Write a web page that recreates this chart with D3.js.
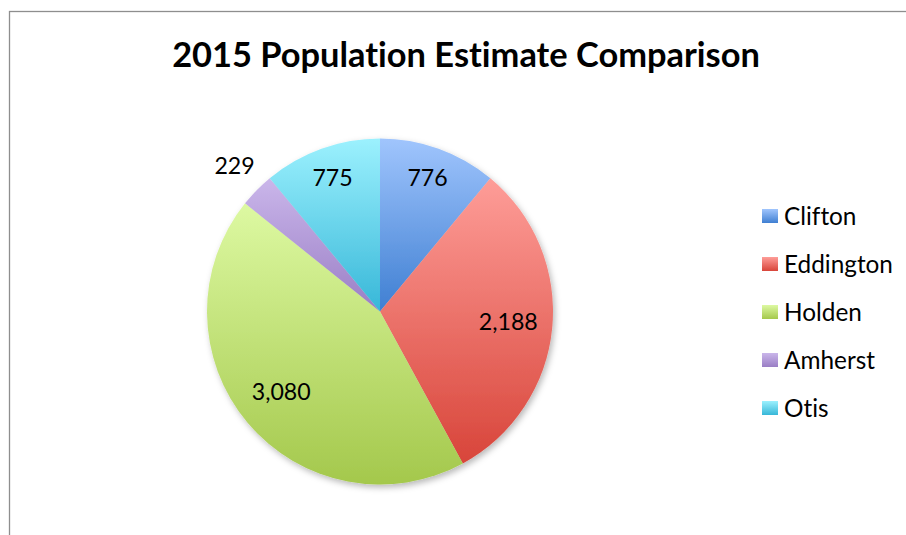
<!DOCTYPE html>
<html>
<head>
<meta charset="utf-8">
<script src="https://cdn.jsdelivr.net/npm/d3@7"></script>
<style>
  html, body { margin: 0; padding: 0; background: #fff; }
  svg { display: block; }
  text { font-family: Lato, "Open Sans", "Liberation Sans", sans-serif; fill: #000;
         font-variant-ligatures: none; font-feature-settings: "liga" 0; }
</style>
</head>
<body>
<script>
// 2015 population estimates by town
const towns = ["Clifton", "Eddington", "Holden", "Amherst", "Otis"];
const population = [776, 2188, 3080, 229, 775];
// gradient stops per town: light at top, deeper at bottom
const topColors = ["#a0c5fd", "#fe9d98", "#ddf9a2", "#cab6ea", "#9cf1fe"];
const bottomColors = ["#3f7fd2", "#d8453a", "#a4c84c", "#9a7ec5", "#37b7d8"];
const title = "2015 Population Estimate Comparison";

const W = 906, H = 535;
const svg = d3.select("body").append("svg").attr("width", W).attr("height", H);
const defs = svg.append("defs");

// chart frame
svg.append("rect")
  .attr("x", 9.5).attr("y", 11.5).attr("width", 1000).attr("height", 1000)
  .attr("fill", "none").attr("stroke", "#8e8e8e").attr("stroke-width", 1.3);

// helper: size text so that it spans a given width
function fitText(sel, targetWidth) {
  const base = parseFloat(sel.attr("font-size"));
  const w = sel.node().getComputedTextLength();
  sel.attr("font-size", base * targetWidth / w);
}

// title
const t = svg.append("text")
  .attr("x", 466).attr("y", 67)
  .attr("text-anchor", "middle")
  .attr("font-weight", 700)
  .attr("font-size", 32)
  .text(title);
fitText(t, 588);

// gradients
towns.forEach((name, i) => {
  const g = defs.append("linearGradient")
    .attr("id", "grad" + i)
    .attr("x1", 0).attr("y1", 0).attr("x2", 0).attr("y2", 1);
  g.append("stop").attr("offset", "0%").attr("stop-color", topColors[i]);
  g.append("stop").attr("offset", "100%").attr("stop-color", bottomColors[i]);
});

const shadow = defs.append("filter").attr("id", "shadow")
  .attr("x", "-10%").attr("y", "-10%").attr("width", "130%").attr("height", "130%");
shadow.append("feDropShadow")
  .attr("dx", 2).attr("dy", 3).attr("stdDeviation", 3)
  .attr("flood-color", "#000").attr("flood-opacity", 0.28);

// pie
const cx = 380, cy = 311.5, R = 173;
const data = towns.map((name, i) => ({ name, value: population[i], i }));
const pie = d3.pie().value(d => d.value).sort(null);
const arcs = pie(data);
const arc = d3.arc().innerRadius(0).outerRadius(R);

const g = svg.append("g").attr("transform", `translate(${cx},${cy})`);
g.append("g").attr("filter", "url(#shadow)")
  .selectAll("path").data(arcs).join("path")
  .attr("d", arc)
  .attr("fill", d => `url(#grad${d.data.i})`);

// data labels: inside for slices wide enough, outside for thin ones
const fmt = d3.format(",");
const labels = g.selectAll("text.val").data(arcs).join("text")
  .attr("class", "val")
  .attr("text-anchor", "middle")
  .attr("dominant-baseline", "central")
  .attr("font-size", 22)
  .text(d => fmt(d.data.value))
  .attr("transform", d => {
    const span = d.endAngle - d.startAngle;
    const a = (d.startAngle + d.endAngle) / 2;
    let r;
    if (span < 0.35) r = R * 1.18;
    else if (span < 1.0) r = R * 0.81;
    else r = R * 0.745;
    return `translate(${r * Math.sin(a)},${-r * Math.cos(a) - 3})`;
  });
// common label size, matched to the widest label
const widest = labels.filter(d => d.data.value === 2188);
const baseW = widest.node().getComputedTextLength();
labels.attr("font-size", 22 * 59 / baseW);

// legend
const legend = svg.append("g").attr("transform", "translate(762,0)");
const rowY = d3.scalePoint().domain(towns).range([216, 408]);
const items = legend.selectAll("g").data(towns).join("g")
  .attr("transform", d => `translate(0,${rowY(d)})`);
items.append("rect")
  .attr("x", 0).attr("y", -7).attr("width", 16).attr("height", 14)
  .attr("fill", (d, i) => `url(#grad${i})`);
const legTexts = items.append("text")
  .attr("x", 22).attr("y", -1)
  .attr("dominant-baseline", "central")
  .attr("font-size", 22)
  .text(d => d);
const edd = legTexts.filter(d => d === "Eddington");
const eW = edd.node().getComputedTextLength();
legTexts.attr("font-size", 22 * 109 / eW);
</script>
</body>
</html>
